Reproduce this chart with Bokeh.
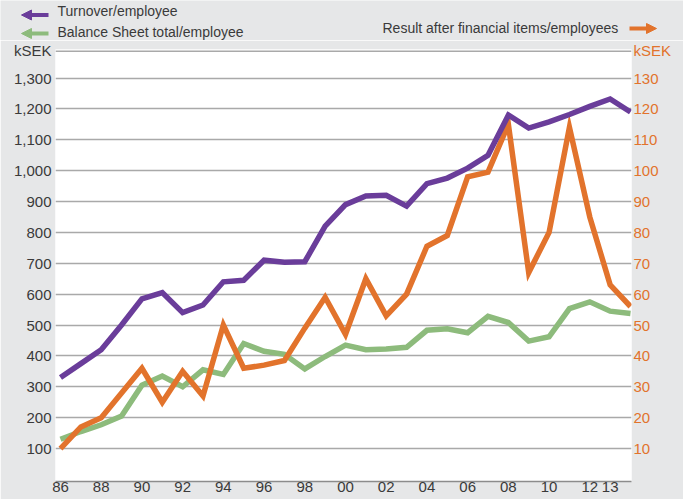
from bokeh.plotting import figure
from bokeh.layouts import column, row
from bokeh.models import (Range1d, LinearAxis, FixedTicker, Arrow, NormalHead,
                          Span, NumeralTickFormatter)
from bokeh.core.properties import value
from bokeh.embed import file_html
from bokeh.resources import INLINE

# ---------------- data ----------------
years = list(range(1986, 2015))
turnover = [330, 375, 420, 500, 585, 605, 540, 565, 640, 645, 710, 703, 705, 820,
            890, 918, 920, 885, 958, 976, 1008, 1050, 1180, 1138, 1158, 1182, 1208,
            1232, 1190]
balance = [130, 155, 177, 205, 305, 335, 300, 355, 340, 440, 415, 405, 358, 398,
           435, 420, 422, 428, 483, 488, 475, 528, 508, 448, 462, 553, 575, 545, 537]
result = [10, 17, 20, 28, 36, 25, 35, 27, 50, 36, 37, 38.5, 49, 59, 47, 65, 53, 60,
          75.5, 79, 98, 99.5, 115, 67, 80, 114, 85, 63, 56]

left_ticks = [100, 200, 300, 400, 500, 600, 700, 800, 900, 1000, 1100, 1200, 1300]
right_ticks = [10, 20, 30, 40, 50, 60, 70, 80, 90, 100, 110, 120, 130]
x_tick_years = [1986, 1988, 1990, 1992, 1994, 1996, 1998, 2000, 2002, 2004, 2006,
                2008, 2010, 2012, 2013]
x_tick_labels = ["86", "88", "90", "92", "94", "96", "98", "00", "02", "04", "06",
                 "08", "10", "12", "13"]
name_turnover = "Turnover/employee"
name_balance = "Balance Sheet total/employee"
name_result = "Result after financial items/employees"
unit_label = "kSEK"

# ---------------- style ----------------
BG = "#e6e7e8"
PURPLE = "#6a3d9a"
GREEN = "#8dbb7c"
ORANGE = "#e2732c"
GRID = "#a9a9a9"
TXT = "#3a3a3a"
FONT = "Liberation Sans"

W = 683
TOP_H = 40            # legend strip
MAIN_H = 499 - TOP_H  # chart
# frame of the chart, in page pixels
FL, FR, FT, FB = 55, 631, 49, 481

px_per_year = 570 / 28.0
x0 = 1986 - 5 / px_per_year
x1 = 2014 + 1 / px_per_year
y0, y1 = -6.8, 1392.4
top_line = 1387      # value of the grey line at the top of the frame
unit_pos = 1389      # where the "kSEK" captions sit on the value scale

# ---------------- legend strip (full-width frame, pixel coordinates) ----------
lg = figure(width=W, height=TOP_H, output_backend="svg", toolbar_location=None,
            x_range=Range1d(0, W), y_range=Range1d(TOP_H, 0),
            x_axis_type=None, y_axis_type=None,
            min_border_left=0, min_border_right=0, min_border_top=0,
            min_border_bottom=0, background_fill_color=BG, border_fill_color=BG,
            outline_line_color=None)
lg.grid.visible = False


def legend_text(text, x, y, color=TXT):
    lg.text(x=[x], y=[y], text=[text], text_color=color,
            text_font=value(FONT), text_font_size="14px",
            text_align="left", text_baseline="middle")


def legend_arrow(color, tip, tail, y):
    lg.add_layout(Arrow(end=NormalHead(size=10, fill_color=color, line_color=color),
                        x_start=tail, y_start=y, x_end=tip, y_end=y,
                        line_color=color, line_width=4))


legend_text(name_turnover, 57, 10.7)
legend_text(name_balance, 57, 31.2)
legend_text(name_result, 382, 27.7)
legend_arrow(PURPLE, 21, 48, 14.5)
legend_arrow(GREEN, 21, 48, 33)
legend_arrow(ORANGE, 656, 629, 28)

# ---------------- chart ----------------
fig = figure(width=W, height=MAIN_H, output_backend="svg", toolbar_location=None,
             x_range=Range1d(x0, x1), y_range=Range1d(y0, y1),
             min_border_left=FL, min_border_right=W - FR,
             min_border_top=FT - TOP_H, min_border_bottom=499 - FB,
             background_fill_color="white", border_fill_color=BG,
             outline_line_color=None)
fig.extra_y_ranges = {"r": Range1d(y0 / 10, y1 / 10)}

fig.xgrid.grid_line_color = None
fig.ygrid.ticker = FixedTicker(ticks=left_ticks)
fig.ygrid.grid_line_color = GRID
fig.ygrid.grid_line_width = 1.5
fig.add_layout(Span(location=top_line, dimension="width", line_color=GRID,
                    line_width=1.5))


def style_axis(ax, color, standoff):
    ax.axis_line_color = None
    ax.major_tick_line_color = None
    ax.minor_tick_line_color = None
    ax.major_tick_out = 0
    ax.major_tick_in = 0
    ax.minor_tick_out = 0
    ax.minor_tick_in = 0
    ax.major_label_standoff = standoff
    ax.major_label_text_font = FONT
    ax.major_label_text_font_size = "15px"
    ax.major_label_text_color = color


ya = fig.yaxis[0]
ya.ticker = FixedTicker(ticks=left_ticks + [unit_pos])
ya.formatter = NumeralTickFormatter(format="0,0")
ya.major_label_overrides = {unit_pos: unit_label}
style_axis(ya, TXT, 4)

r_unit_pos = unit_pos / 10
ra = LinearAxis(y_range_name="r", ticker=FixedTicker(ticks=right_ticks + [r_unit_pos]))
ra.major_label_overrides = {r_unit_pos: unit_label}
style_axis(ra, ORANGE, 2)
fig.add_layout(ra, "right")

xa = fig.xaxis[0]
xa.ticker = FixedTicker(ticks=x_tick_years)
xa.major_label_overrides = {y: l for y, l in zip(x_tick_years, x_tick_labels)}
style_axis(xa, TXT, 0)
xa.axis_line_color = "#8c8c8c"
xa.axis_line_width = 1.5

fig.line(years, balance, line_color=GREEN, line_width=5.5, line_join="miter")
fig.line(years, result, line_color=ORANGE, line_width=5.5, line_join="miter",
         y_range_name="r")
fig.line(years, turnover, line_color=PURPLE, line_width=5.5, line_join="miter")

p = column(row(lg), fig, spacing=0)

open("out.html", "w").write(file_html(p, INLINE))
